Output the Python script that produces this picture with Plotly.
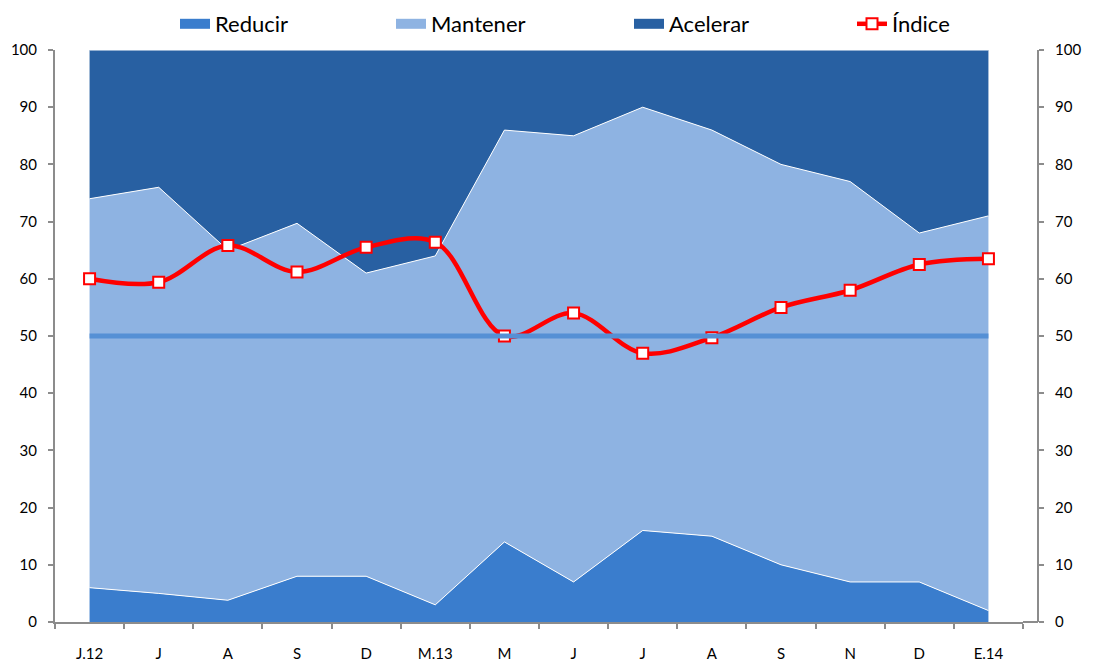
import plotly.graph_objects as go

categories = ["J.12", "J", "A", "S", "D", "M.13", "M", "J", "J", "A", "S", "N", "D", "E.14"]
reducir = [6, 5, 3.8, 8, 8, 3, 14, 7, 16, 15, 10, 7, 7, 2]
mantener = [68, 71, 61.2, 61.7, 53, 61, 72, 78, 74, 71, 70, 70, 61, 69]
acelerar = [26, 24, 35, 30.3, 39, 36, 14, 15, 10, 14, 20, 23, 32, 29]
indice = [60, 59.4, 65.8, 61.2, 65.5, 66.4, 50, 54, 47, 49.7, 55, 58, 62.5, 63.5]
ref_value = 50
y_ticks = [0, 10, 20, 30, 40, 50, 60, 70, 80, 90, 100]

x = list(range(len(categories)))

FONT = "Lato, Carlito, 'Liberation Sans', sans-serif"
AXIS_GRAY = "#8c8c8c"
COL_RED = "#3a7dcd"
COL_MAN = "#8eb3e2"
COL_ACE = "#2860a2"

series = [("Reducir", reducir, COL_RED, "legend"),
          ("Mantener", mantener, COL_MAN, "legend2"),
          ("Acelerar", acelerar, COL_ACE, "legend3")]

fig = go.Figure()
for name, vals, col, lg in series:
    fig.add_trace(go.Scatter(x=x, y=vals, name=name, stackgroup="one", mode="lines",
                             line=dict(color="white", width=1), fillcolor=col,
                             showlegend=False))
# legend swatches (block-style keys)
for name, vals, col, lg in series:
    fig.add_trace(go.Scatter(x=[None], y=[None], name=name, mode="lines",
                             line=dict(color=col, width=10), legend=lg,
                             showlegend=True, hoverinfo="skip"))

fig.add_trace(go.Scatter(x=x, y=indice, name="Índice", mode="lines+markers", legend="legend4",
                         line=dict(color="#ff0000", width=4.5, shape="spline", smoothing=1),
                         marker=dict(symbol="square", size=11, color="white",
                                     line=dict(color="#ff0000", width=2))))
fig.add_trace(go.Scatter(x=[x[0], x[-1]], y=[ref_value, ref_value], mode="lines",
                         line=dict(color="#5590d5", width=5), showlegend=False, hoverinfo="skip"))

# page has an 8px body margin; margins compensate for it
ML, MR, MT, MB = 47, 65, 42, 56
plot_w = 1095 - ML - MR
plot_h = 670 - MT - MB
xdom_end = (1015 - ML) / plot_w


def legend_at(px):
    return dict(orientation="h", x=(px - ML) / plot_w, xanchor="left",
                y=1 + 26 / plot_h, yanchor="middle",
                font=dict(size=22, family=FONT), bgcolor="rgba(0,0,0,0)")


fig.update_layout(
    width=1095, height=670,
    margin=dict(l=ML, r=MR, t=MT, b=MB, autoexpand=False),
    paper_bgcolor="white", plot_bgcolor="white",
    font=dict(family=FONT, color="black", size=15),
    showlegend=True,
    legend=legend_at(167),
    legend2=legend_at(383),
    legend3=legend_at(621),
    legend4=legend_at(844),
    xaxis=dict(domain=[0, xdom_end], range=[-0.5, len(categories) - 0.5],
               tickvals=x, ticktext=categories, ticks="outside", ticklen=17,
               tickcolor="rgba(0,0,0,0)", showgrid=False, zeroline=False,
               showline=True, linecolor=AXIS_GRAY, linewidth=2,
               tickfont=dict(size=15, family=FONT),
               minor=dict(tick0=-0.5, dtick=1, ticks="outside", ticklen=5,
                          tickcolor=AXIS_GRAY, tickwidth=2, showgrid=False)),
    yaxis=dict(range=[0, 100], tickvals=y_ticks, ticks="outside", ticklen=5,
               tickcolor=AXIS_GRAY, tickwidth=2, showgrid=False, zeroline=False,
               showline=True, linecolor=AXIS_GRAY, linewidth=2, ticklabelstandoff=8,
               tickfont=dict(size=15, family=FONT)),
    yaxis2=dict(range=[0, 100], tickvals=y_ticks, ticks="outside", ticklen=5,
                tickcolor=AXIS_GRAY, tickwidth=2, showgrid=False, zeroline=False,
                showline=True, linecolor=AXIS_GRAY, linewidth=2, ticklabelstandoff=8,
                overlaying="y", side="right", anchor="free", position=1,
                tickfont=dict(size=15, family=FONT)),
)

# invisible trace to show the secondary axis
fig.add_trace(go.Scatter(x=[x[0]], y=[ref_value], yaxis="y2", mode="markers",
                         marker=dict(opacity=0), showlegend=False, hoverinfo="skip"))

# extend the category axis line to the secondary axis
fig.add_shape(type="line", xref="paper", yref="paper", x0=xdom_end, x1=1, y0=0, y1=0,
              line=dict(color=AXIS_GRAY, width=2))

fig.write_html("out.html")
